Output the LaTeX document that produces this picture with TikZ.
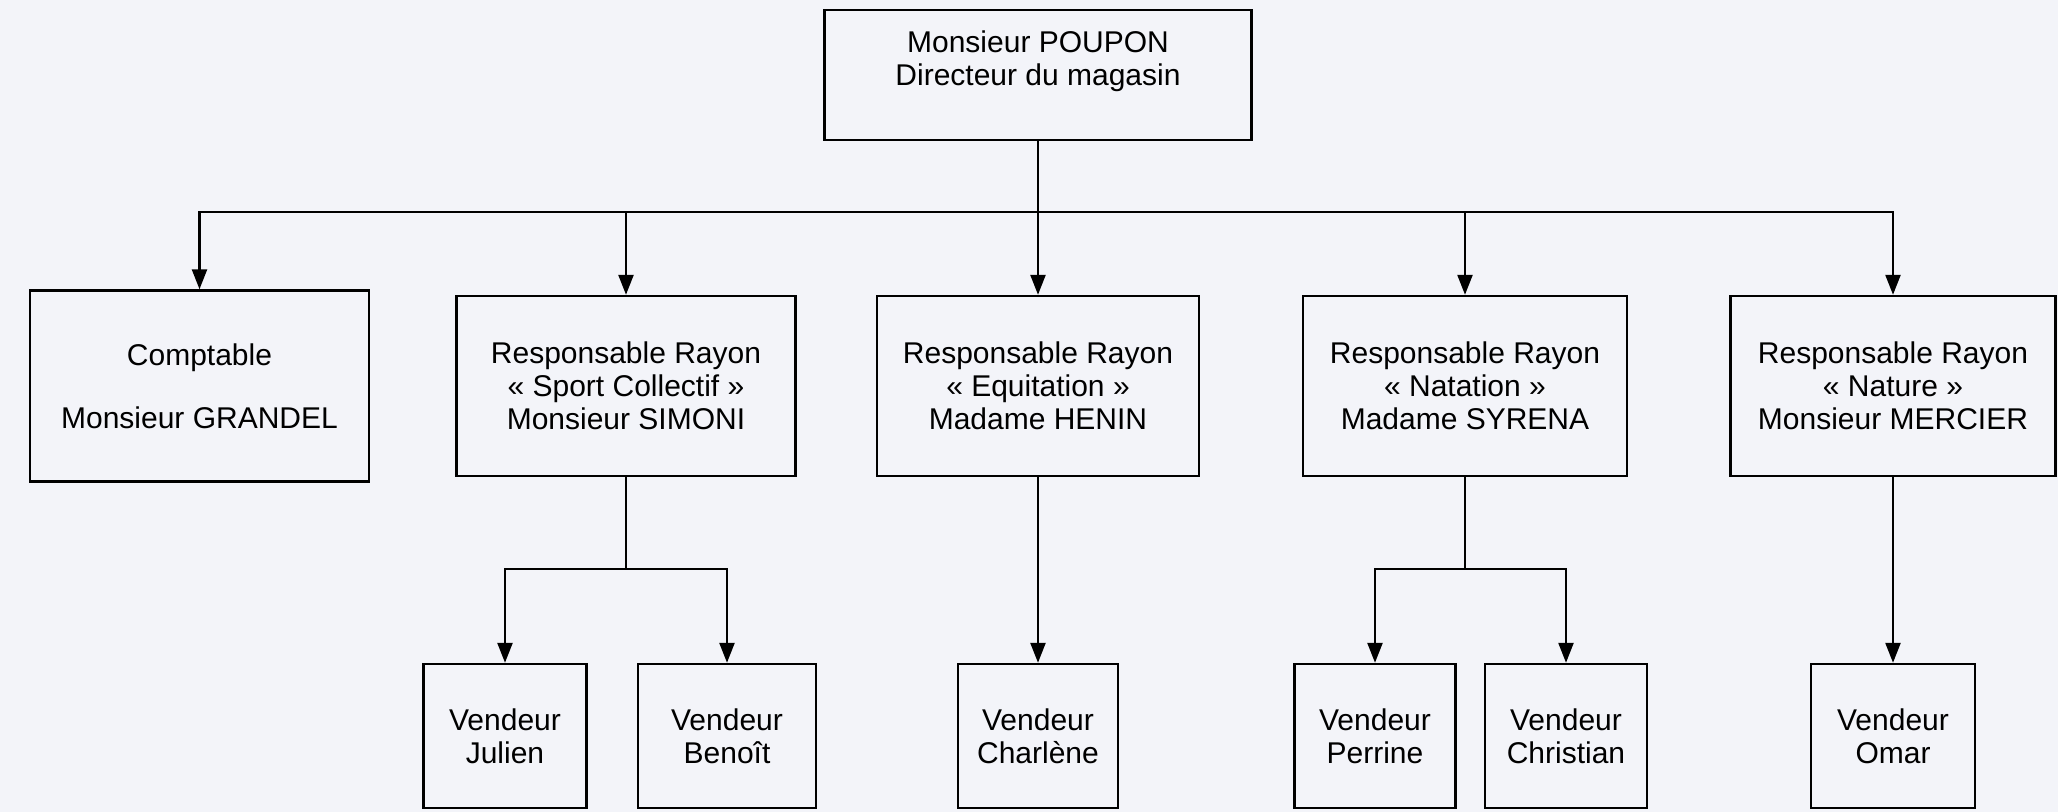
\documentclass[tikz,border=0pt]{standalone}
\usepackage{fontspec}
\setmainfont{Liberation Sans}
\usetikzlibrary{arrows.meta}
\definecolor{papier}{RGB}{243,244,249}
\tikzset{
	poste/.style={draw, line width=1.2pt, align=center, inner sep=0pt, font=\fontsize{15}{16.5}\selectfont},
	trait/.style={line width=1.2pt},
	fleche/.style={line width=1.2pt, -{Triangle[length=10pt,width=7.5pt]}}
}
\begin{document}
\begin{tikzpicture}[x=0.5pt, y=-0.5pt]
	\fill[papier] (0,0) rectangle (2058,812);
	% direction
	\node[poste, minimum width=213.5pt, minimum height=65pt] (dir) at (1038,75) {Monsieur POUPON\\Directeur du magasin\\\mbox{}};
	% responsables
	\node[poste, minimum width=169.5pt, minimum height=95.5pt] (comp) at (199.5,386) {Comptable\\[15pt]Monsieur GRANDEL};
	\node[poste, minimum width=169.5pt, minimum height=90pt] (sim) at (626,386) {Responsable Rayon\\« Sport Collectif »\\Monsieur SIMONI};
	\node[poste, minimum width=161pt, minimum height=90pt] (hen) at (1038,386) {Responsable Rayon\\« Equitation »\\Madame HENIN};
	\node[poste, minimum width=162pt, minimum height=90pt] (syr) at (1465,386) {Responsable Rayon\\« Natation »\\Madame SYRENA};
	\node[poste, minimum width=162.5pt, minimum height=90pt] (mer) at (1893,386) {Responsable Rayon\\« Nature »\\Monsieur MERCIER};
	% vendeurs
	\node[poste, minimum width=81.5pt, minimum height=72pt] (jul) at (505,736) {Vendeur\\Julien};
	\node[poste, minimum width=89pt, minimum height=72pt] (ben) at (727,736) {Vendeur\\Benoît};
	\node[poste, minimum width=80pt, minimum height=72pt] (cha) at (1038,736) {Vendeur\\Charlène};
	\node[poste, minimum width=80.5pt, minimum height=72pt] (per) at (1375,736) {Vendeur\\Perrine};
	\node[poste, minimum width=81pt, minimum height=72pt] (chr) at (1566,736) {Vendeur\\Christian};
	\node[poste, minimum width=82pt, minimum height=72pt] (oma) at (1893,736) {Vendeur\\Omar};
	% liaisons
	\coordinate (bus) at (1038,212);
	\draw[fleche] (dir) -- (hen);
	\foreach \n in {comp,sim,syr,mer}\draw[fleche] (bus) -| (\n.north);
	\coordinate (nsim) at (626,569);
	\coordinate (nsyr) at (1465,569);
	\draw[trait] (sim) -- (nsim);
	\draw[trait] (syr) -- (nsyr);
	\foreach \n in {jul,ben}\draw[fleche] (nsim) -| (\n.north);
	\foreach \n in {per,chr}\draw[fleche] (nsyr) -| (\n.north);
	\draw[fleche] (hen) -- (cha);
	\draw[fleche] (mer) -- (oma);
\end{tikzpicture}
\end{document}
